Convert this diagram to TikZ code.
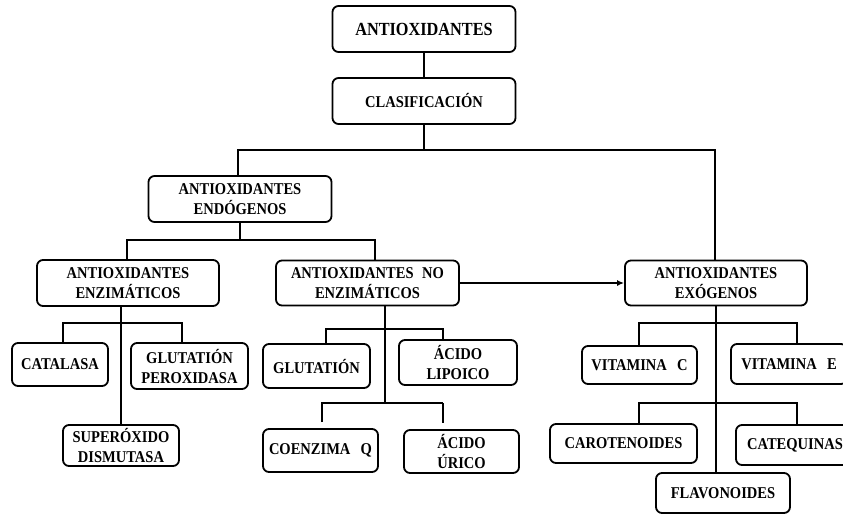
\documentclass[tikz,border=0pt]{standalone}
\usepackage{fontspec}
\setmainfont[FakeStretch=0.88]{Liberation Serif}
\usetikzlibrary{arrows.meta}
\tikzset{
  x=1pt, y=-1pt,
  box/.style={draw, line width=1.8pt, rounded corners=6pt, align=center,
    font=\bfseries\fontsize{16.5}{20}\selectfont, inner sep=0pt},
  conn/.style={line width=1.8pt},
}
\begin{document}
\begin{tikzpicture}
\useasboundingbox (0,0) rectangle (843,514);
% nodes
\node[box, minimum width=183, minimum height=46, font=\bfseries\fontsize{18.5}{20}\selectfont] (root) at (424,29) {ANTIOXIDANTES};
\node[box, minimum width=183, minimum height=46] (clas) at (424,101) {CLASIFICACIÓN};
\node[box, minimum width=183, minimum height=46] (endo) at (240,199) {ANTIOXIDANTES\\ENDÓGENOS};
\node[box, minimum width=182, minimum height=46] (enz) at (128,283) {ANTIOXIDANTES\\ENZIMÁTICOS};
\node[box, minimum width=183, minimum height=45] (noenz) at (367.5,283) {ANTIOXIDANTES\hspace{0.3em} NO\\ENZIMÁTICOS};
\node[box, minimum width=182, minimum height=45] (exo) at (716,283) {ANTIOXIDANTES\\EXÓGENOS};
\node[box, minimum width=96, minimum height=43] (cat) at (60,364.5) {CATALASA};
\node[box, minimum width=117, minimum height=46] (gpx) at (189.5,366) {GLUTATIÓN\\PEROXIDASA};
\node[box, minimum width=116, minimum height=41] (sod) at (121,445.5) {SUPERÓXIDO\\DISMUTASA};
\node[box, minimum width=107, minimum height=44] (glut) at (316.5,366) {GLUTATIÓN};
\node[box, minimum width=118, minimum height=45] (lipo) at (458,362.5) {ÁCIDO\\LIPOICO};
\node[box, minimum width=115, minimum height=43] (coq) at (320.5,450.5) {COENZIMA\hspace{0.4em} Q};
\node[box, minimum width=115, minimum height=43] (uric) at (461.5,451.5) {ÁCIDO\\ÚRICO};
\node[box, minimum width=115, minimum height=38] (vitc) at (639.5,365) {VITAMINA\hspace{0.4em} C};
\node[box, minimum width=116, minimum height=40] (vite) at (789,364) {VITAMINA\hspace{0.4em} E};
\node[box, minimum width=147, minimum height=39] (carot) at (623.5,443.5) {CAROTENOIDES};
\node[box, minimum width=118, minimum height=40] (cateq) at (795,445) {CATEQUINAS};
\node[box, minimum width=134, minimum height=40] (flavo) at (723,493) {FLAVONOIDES};
% junction coordinates
\coordinate (b1) at (424,150);
\coordinate (b2) at (240,240);
\coordinate (e1) at (63,323);
\coordinate (e2) at (182,323);
\coordinate (n1) at (326,329);
\coordinate (n2) at (443,329);
\coordinate (n3) at (322,403);
\coordinate (n4) at (443,403);
\coordinate (x1) at (639,323);
\coordinate (x2) at (797,323);
\coordinate (x3) at (639,403);
\coordinate (x4) at (797,403);
% connectors
\draw[conn] (root.south) -- (clas.north);
\draw[conn] (clas.south) -- (b1);
\draw[conn] ([xshift=-2]endo.north) |- (b1) -| ([xshift=-1]exo.north);
\draw[conn] (endo.south) -- (b2);
\draw[conn] ([xshift=-1]enz.north) |- (b2) -| ([xshift=7.5]noenz.north);
\draw[conn] (enz.south -| sod.north) -- (sod.north);
\draw[conn] (e1 |- cat.north) -- (e1) -- (e2) -- (e2 |- gpx.north);
\draw[conn] (noenz.south -| 385,0) -- (385,403);
\draw[conn] (n1 |- glut.north) -- (n1) -- (n2) -- (n2 |- lipo.north);
\draw[conn, shorten <=6pt] (n3 |- coq.north) -- (n3) -- (n4);
\draw[conn, shorten >=6pt] (n4) -- (n4 |- uric.north);
\draw[conn] (exo.south) -- (exo.south |- flavo.north);
\draw[conn] (x1 |- vitc.north) -- (x1) -- (x2) -- (x2 |- vite.north);
\draw[conn] (x3 |- carot.north) -- (x3) -- (x4) -- (x4 |- cateq.north);
\draw[conn, -{Latex[length=7pt,width=6pt]}] (noenz.east) -- (exo.west);
\end{tikzpicture}
\end{document}
